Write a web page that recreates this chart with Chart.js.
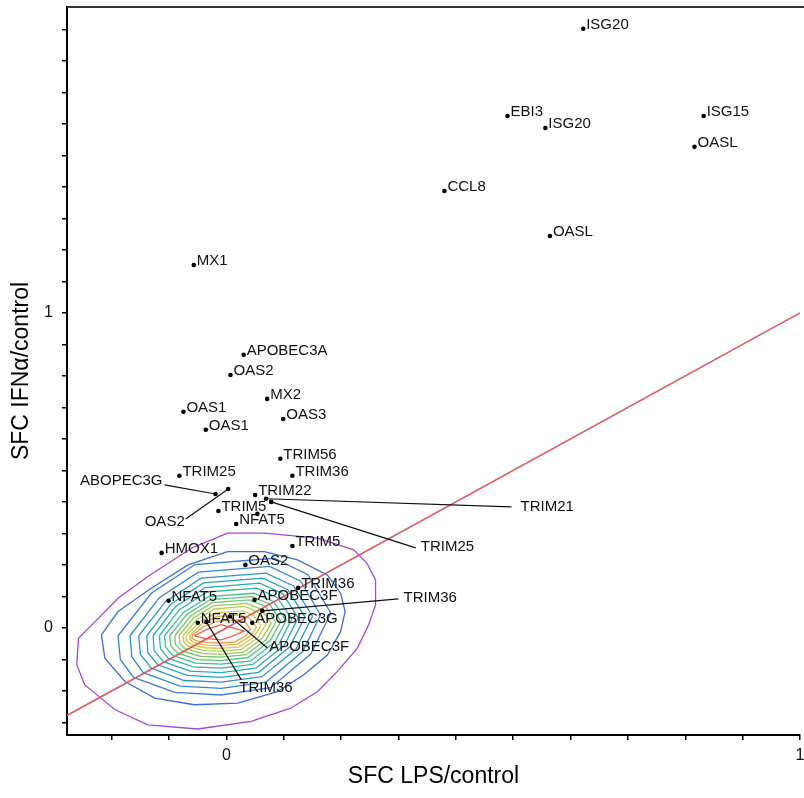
<!DOCTYPE html>
<html><head><meta charset="utf-8">
<script src="https://cdn.jsdelivr.net/npm/chart.js@4.4.1/dist/chart.umd.min.js"></script>
<style>html,body{margin:0;padding:0;background:#fff}#wrap{width:804px;height:798px}</style>
</head><body><div id="wrap"><canvas id="c" width="804" height="798"></canvas></div>
<script>
// ---------- DATA ----------
const geneLabels = ['ISG20','EBI3','ISG20','ISG15','OASL','CCL8','OASL','MX1','APOBEC3A','OAS2','MX2','OAS1','OAS1','OAS3','TRIM56','TRIM25','TRIM36','TRIM22','TRIM5','NFAT5','HMOX1','TRIM5','OAS2','TRIM36','NFAT5','APOBEC3F','APOBEC3G','NFAT5',''];
const lpsRatio = [0.622,0.490,0.556,0.832,0.816,0.380,0.564,-0.057,0.030,0.007,0.071,-0.075,-0.036,0.099,0.094,-0.082,0.115,0.050,-0.014,0.017,-0.113,0.115,0.033,0.125,-0.101,0.049,0.045,-0.050,0.054];
const ifnRatio = [1.902,1.625,1.587,1.625,1.527,1.387,1.244,1.152,0.867,0.803,0.727,0.686,0.629,0.663,0.537,0.483,0.483,0.422,0.371,0.330,0.238,0.260,0.200,0.127,0.086,0.089,0.016,0.016,0.362];

// genes whose labels sit at the end of a leader line
const leaderLabels = ['ABOPEC3G','OAS2','TRIM21','TRIM25','TRIM36','APOBEC3F','TRIM36'];
const leaderLps = [-0.019,0.003,0.069,0.078,0.0625,0.006,-0.035];
const leaderIfn = [0.425,0.441,0.410,0.400,0.054,0.036,0.019];
const leaderEndLps = [-0.108,-0.071,0.497,0.330,0.300,0.071,0.026];
const leaderEndIfn = [0.454,0.346,0.384,0.254,0.092,-0.063,-0.165];

// identity (y = x) reference line
const diagonalLps = [-0.278, 1.0];
const diagonalIfn = [-0.278, 1.0];

// density contours, outer (purple) to inner (red)
const contourLps = [
 [-0.061,0.002,0.066,0.159,0.222,0.245,0.260,0.260,0.248,0.228,0.193,0.159,0.112,0.043,-0.050,-0.137,-0.194,-0.247,-0.261,-0.258,-0.229,-0.189,-0.137],
 [0.002,0.066,0.124,0.176,0.199,0.207,0.199,0.176,0.135,0.089,0.020,-0.056,-0.125,-0.177,-0.212,-0.218,-0.189,-0.131,-0.067],
 [-0.189,-0.131,-0.055,0.083,0.142,0.182,0.147,0.077,-0.009,-0.090,-0.162,-0.185],
 [-0.168,-0.117,-0.049,0.075,0.129,0.164,0.133,0.069,-0.009,-0.081,-0.145,-0.165],
 [-0.153,-0.106,-0.044,0.069,0.117,0.150,0.121,0.062,-0.009,-0.074,-0.131,-0.150],
 [-0.139,-0.097,-0.040,0.063,0.107,0.137,0.110,0.056,-0.009,-0.068,-0.120,-0.137],
 [-0.128,-0.089,-0.037,0.058,0.098,0.125,0.101,0.051,-0.009,-0.063,-0.110,-0.126],
 [-0.117,-0.082,-0.034,0.053,0.089,0.114,0.092,0.046,-0.009,-0.058,-0.101,-0.115],
 [-0.108,-0.075,-0.031,0.048,0.082,0.104,0.084,0.042,-0.009,-0.054,-0.093,-0.106],
 [-0.099,-0.069,-0.028,0.044,0.075,0.095,0.076,0.038,-0.009,-0.050,-0.085,-0.097],
 [-0.090,-0.063,-0.025,0.040,0.068,0.086,0.069,0.034,-0.009,-0.046,-0.078,-0.089],
 [-0.083,-0.057,-0.023,0.036,0.061,0.078,0.062,0.030,-0.009,-0.042,-0.072,-0.081],
 [-0.076,-0.052,-0.021,0.032,0.054,0.069,0.055,0.026,-0.009,-0.039,-0.066,-0.074],
 [-0.070,-0.048,-0.019,0.028,0.047,0.060,0.048,0.022,-0.009,-0.037,-0.061,-0.069],
 [-0.064,-0.044,-0.018,0.024,0.041,0.052,0.041,0.018,-0.009,-0.034,-0.056,-0.063],
 [-0.060,-0.041,-0.016,0.020,0.033,0.042,0.033,0.014,-0.009,-0.032,-0.052,-0.059],
 [-0.056,-0.032,-0.009,0.031,0.008,-0.009,-0.038]
];
const contourIfn = [
 [0.253,0.301,0.301,0.285,0.248,0.205,0.152,0.073,0.010,-0.065,-0.139,-0.202,-0.255,-0.297,-0.321,-0.308,-0.260,-0.181,-0.117,-0.033,0.020,0.094,0.163],
 [0.242,0.242,0.216,0.168,0.110,0.052,-0.012,-0.086,-0.149,-0.202,-0.239,-0.244,-0.223,-0.170,-0.096,-0.022,0.052,0.126,0.200],
 [-0.025,0.110,0.201,0.221,0.169,0.047,-0.083,-0.190,-0.213,-0.205,-0.157,-0.100],
 [-0.025,0.096,0.177,0.195,0.149,0.041,-0.075,-0.172,-0.192,-0.185,-0.142,-0.092],
 [-0.025,0.084,0.158,0.174,0.133,0.037,-0.068,-0.155,-0.172,-0.167,-0.128,-0.084],
 [-0.025,0.075,0.143,0.158,0.121,0.035,-0.061,-0.141,-0.157,-0.151,-0.117,-0.078],
 [-0.025,0.067,0.128,0.142,0.109,0.032,-0.055,-0.128,-0.142,-0.137,-0.107,-0.072],
 [-0.025,0.058,0.114,0.126,0.096,0.028,-0.050,-0.116,-0.128,-0.124,-0.097,-0.066],
 [-0.025,0.049,0.099,0.110,0.084,0.023,-0.046,-0.105,-0.115,-0.112,-0.088,-0.061],
 [-0.025,0.043,0.090,0.099,0.076,0.021,-0.041,-0.094,-0.104,-0.101,-0.080,-0.057],
 [-0.025,0.037,0.080,0.089,0.068,0.018,-0.038,-0.085,-0.093,-0.090,-0.073,-0.052],
 [-0.025,0.032,0.070,0.078,0.059,0.015,-0.034,-0.077,-0.084,-0.081,-0.066,-0.049],
 [-0.025,0.026,0.060,0.068,0.051,0.012,-0.031,-0.068,-0.074,-0.072,-0.059,-0.045],
 [-0.025,0.018,0.048,0.054,0.040,0.007,-0.029,-0.060,-0.065,-0.063,-0.053,-0.041],
 [-0.025,0.011,0.036,0.041,0.030,0.002,-0.027,-0.052,-0.056,-0.055,-0.047,-0.038],
 [-0.025,0.003,0.021,0.025,0.017,-0.004,-0.026,-0.045,-0.048,-0.047,-0.041,-0.034],
 [-0.025,-0.003,0.010,-0.010,-0.028,-0.038,-0.033]
];

// axis tick labels (only these values are labelled)
const tickLabelValues = [0, 1];
const tickLabelTexts = ['0', '1'];

// ---------- STYLE ----------
const contourColors = ['#a846d6','#3d6ed4','#3a7ed2','#3489cc','#2c96c4','#28a1bb','#2aacae','#33b5a0','#44bd8f','#5bc37d','#77c86b','#97cc5b','#b6cf4d','#d2cb45','#e5b841','#ec9a40','#e8603e'];
const leaderTextStyle = [
  {align:'right', dx:-2, dy:-4},
  {align:'right', dx:-1, dy:3},
  {align:'left', dx:9, dy:0},
  {align:'left', dx:5, dy:-1},
  {align:'left', dx:5, dy:-1},
  {align:'left', dx:2, dy:-1},
  {align:'left', dx:-2, dy:8}
];
const FONT = '"Liberation Sans", Arial, sans-serif';

// ---------- BUILD ----------
const datasets = [];
const pts = lpsRatio.map((x,i)=>({x, y: ifnRatio[i]}));
leaderLps.forEach((x,i)=>pts.push({x, y: leaderIfn[i]}));
datasets.push({type:'scatter', data: pts, pointRadius:2.3, pointBackgroundColor:'#000', pointBorderWidth:0, order:0});
leaderLps.forEach((x,i)=>{
  datasets.push({type:'line', data:[{x, y:leaderIfn[i]},{x:leaderEndLps[i], y:leaderEndIfn[i]}],
    borderColor:'#111', borderWidth:1.2, pointRadius:0, fill:false, order:1});
});
datasets.push({type:'line', data: diagonalLps.map((x,i)=>({x, y: diagonalIfn[i]})),
  borderColor:'#dc5a62', borderWidth:1.5, pointRadius:0, fill:false, order:2});
contourLps.forEach((xs,k)=>{
  const d = xs.map((x,i)=>({x, y: contourIfn[k][i]}));
  d.push(d[0]);
  datasets.push({type:'line', data:d, borderColor:contourColors[k], borderWidth:1.3, pointRadius:0, fill:false, tension:0, order:3});
});

const labelPlugin = {
  id:'labels',
  afterDatasetsDraw(chart){
    const {ctx, scales:{x, y}, chartArea} = chart;
    ctx.save();
    ctx.strokeStyle = '#333'; ctx.lineWidth = 2;
    ctx.beginPath(); ctx.moveTo(chartArea.left, chartArea.top); ctx.lineTo(chart.width, chartArea.top); ctx.stroke();
    ctx.font = '15px ' + FONT;
    ctx.fillStyle = '#111';
    ctx.textBaseline = 'middle';
    ctx.textAlign = 'left';
    geneLabels.forEach((t,i)=>{
      if(!t) return;
      ctx.fillText(t, x.getPixelForValue(lpsRatio[i]) + 3, y.getPixelForValue(ifnRatio[i]) - 4);
    });
    leaderLabels.forEach((t,i)=>{
      const s = leaderTextStyle[i];
      ctx.textAlign = s.align;
      ctx.fillText(t, x.getPixelForValue(leaderEndLps[i]) + s.dx, y.getPixelForValue(leaderEndIfn[i]) + s.dy);
    });
    ctx.restore();
  }
};

const tickCb = (v)=>{
  for(let i=0;i<tickLabelValues.length;i++) if(Math.abs(v - tickLabelValues[i]) < 1e-9) return tickLabelTexts[i];
  return '';
};

new Chart(document.getElementById('c'), {
  type:'scatter',
  data:{datasets},
  options:{
    responsive:false, animation:false, devicePixelRatio:1,
    layout:{padding:{left:0, right:1, top:7, bottom:0}},
    plugins:{legend:{display:false}, tooltip:{enabled:false}},
    scales:{
      x:{type:'linear', min:-0.278, max:1.0,
        ticks:{stepSize:0.1, includeBounds:false, autoSkip:false, maxRotation:0, padding:6, color:'#111',
          font:{family:FONT, size:16}, callback:tickCb},
        grid:{display:true, drawOnChartArea:false, drawTicks:true, tickLength:5, color:'#000', lineWidth:1.5},
        border:{display:true, color:'#000', width:2},
        title:{display:true, text:'SFC LPS/control', color:'#000', font:{family:FONT, size:23}, padding:{top:0, bottom:8}},
        afterFit(s){ s.height = 63; s.paddingLeft = 0; s.paddingRight = 0; }
      },
      y:{type:'linear', min:-0.34, max:1.971,
        ticks:{stepSize:0.1, includeBounds:false, autoSkip:false, padding:9, color:'#111',
          font:{family:FONT, size:16}, callback:tickCb},
        grid:{display:true, drawOnChartArea:false, drawTicks:true, tickLength:5, color:'#000', lineWidth:1.5},
        border:{display:true, color:'#000', width:2},
        title:{display:true, text:'SFC IFNα/control', color:'#000', font:{family:FONT, size:23}, padding:{top:8, bottom:0}},
        afterFit(s){ s.width = 67; s.paddingTop = 0; s.paddingBottom = 0; }
      }
    }
  },
  plugins:[labelPlugin]
});
</script>
</body></html>
